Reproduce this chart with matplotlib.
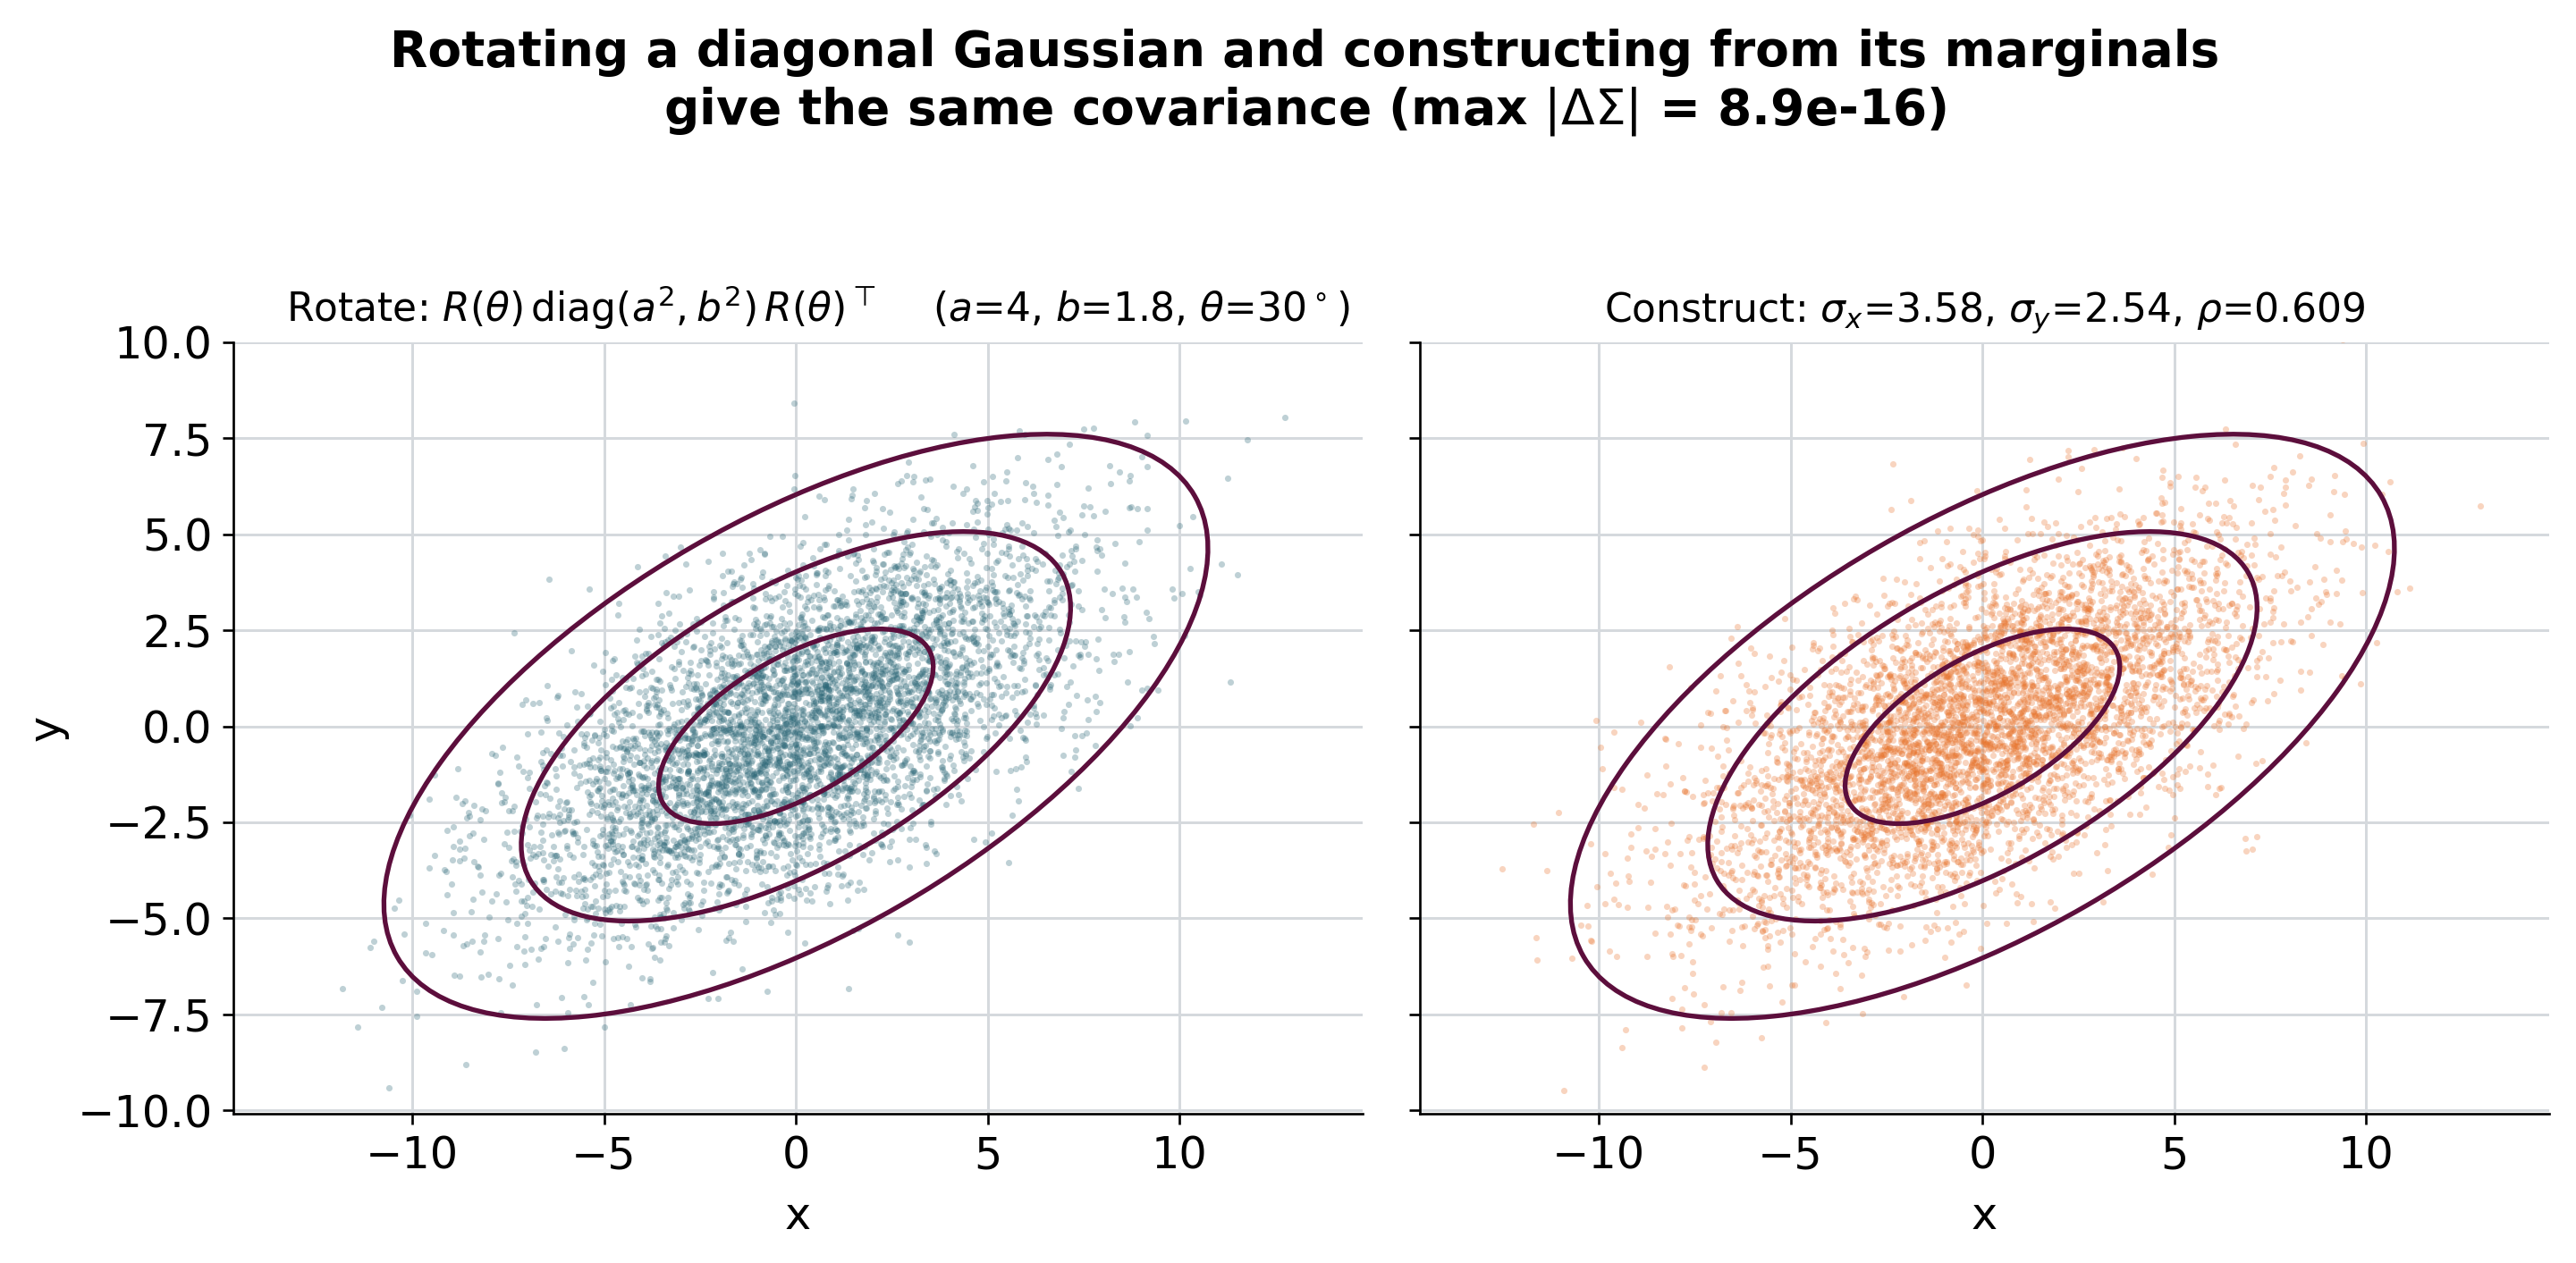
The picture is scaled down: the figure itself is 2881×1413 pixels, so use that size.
"""
Rotating a diagonal Gaussian vs constructing it from its marginals.
Two scatter panels with the 1/2/3-sigma ellipses of the shared covariance.
"""

import numpy as np
import matplotlib
matplotlib.use("Agg")
import matplotlib.pyplot as plt
from matplotlib.patches import Ellipse

# parameters printed in the panel titles
A = 4.0
B = 1.8
THETA_DEG = 30.0
SIGMA_X = 3.58
SIGMA_Y = 2.54
RHO = 0.609
MAX_DIFF_TEXT = "8.9e-16"

N_SAMPLES = 5000
SIGMA_LEVELS = [1, 2, 3]

X_TICKS = [-10, -5, 0, 5, 10]
Y_TICKS = [-10.0, -7.5, -5.0, -2.5, 0.0, 2.5, 5.0, 7.5, 10.0]

COLOR_ROTATE = "#2a6676"
COLOR_CONSTRUCT = "#e8732b"
COLOR_ELLIPSE = "#5c0e3c"
COLOR_GRID = "#d5d9dd"

TICK_FS = 14.8
TITLE_FS = 13.2


def sample_rotate(rng):
    # z ~ N(0, diag(a^2, b^2)) then rotated by theta
    th = np.deg2rad(THETA_DEG)
    rot = np.array([[np.cos(th), -np.sin(th)], [np.sin(th), np.cos(th)]])
    z = rng.standard_normal((N_SAMPLES, 2)) * np.array([A, B])
    return z @ rot.T


def sample_construct(rng):
    z = rng.standard_normal((N_SAMPLES, 2))
    x = SIGMA_X * z[:, 0]
    y = SIGMA_Y * (RHO * z[:, 0] + np.sqrt(1 - RHO**2) * z[:, 1])
    return np.column_stack([x, y])


def draw_panel(ax, pts, color, title, title_x=0.5):
    ax.scatter(pts[:, 0], pts[:, 1], s=4.5, color=color, alpha=0.3,
               linewidths=0, zorder=2)
    for k in SIGMA_LEVELS:
        ax.add_patch(Ellipse((0, 0), 2 * k * A, 2 * k * B, angle=THETA_DEG,
                             fill=False, edgecolor=COLOR_ELLIPSE,
                             linewidth=1.6, zorder=3))
    ax.set_title(title, fontsize=TITLE_FS, pad=7, x=title_x)
    ax.set_xlim(-14.66, 14.77)
    ax.set_ylim(-10.09, 10.0)
    ax.set_xticks(X_TICKS)
    ax.set_yticks(Y_TICKS)
    ax.grid(True, color=COLOR_GRID, linewidth=0.9, zorder=0)
    ax.set_axisbelow(True)
    for side in ("top", "right"):
        ax.spines[side].set_visible(False)
    ax.tick_params(labelsize=TICK_FS)
    ax.set_xlabel("x", fontsize=TICK_FS, labelpad=6)


rng = np.random.default_rng(7)
pts_rot = sample_rotate(rng)
pts_con = sample_construct(rng)

fig = plt.figure(figsize=(2881 / 240, 1413 / 240), dpi=240)
W, H = 2881, 1413
ax1 = fig.add_axes([261 / W, 1 - 1246 / H, 1263 / W, 863 / H])
ax2 = fig.add_axes([1588 / W, 1 - 1246 / H, 1263 / W, 863 / H], sharey=ax1)

draw_panel(ax1, pts_rot, COLOR_ROTATE,
           r"Rotate: $R(\theta)\,\mathrm{diag}(a^2,b^2)\,R(\theta)^\top$"
           r"    ($a$=4, $b$=1.8, $\theta$=30$^\circ$)", title_x=0.518)
draw_panel(ax2, pts_con, COLOR_CONSTRUCT,
           r"Construct: $\sigma_x$=3.58, $\sigma_y$=2.54, $\rho$=0.609")
ax1.set_ylabel("y", fontsize=TICK_FS, labelpad=3)
ax2.tick_params(labelleft=False)

fig.suptitle("Rotating a diagonal Gaussian and constructing from its marginals\n"
             r"give the same covariance (max $|\Delta\Sigma|$ = " + MAX_DIFF_TEXT + ")",
             fontsize=16.5, fontweight="bold", x=0.5065, y=0.977)

fig.savefig("out.png", dpi=240)
